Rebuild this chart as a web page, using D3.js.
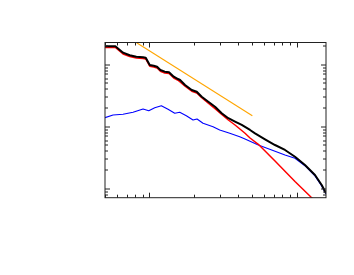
<!DOCTYPE html>
<html>
<head>
<meta charset="utf-8">
<script src="https://cdn.jsdelivr.net/npm/d3@7"></script>
<style>
  html, body { margin: 0; padding: 0; background: #fff; }
  svg { display: block; }
</style>
</head>
<body>
<div id="chart"></div>
<script>
(function() {
    'use strict';

    // axis ranges (log-log, no tick labels in the original)
    var xDomain = [0.5, 15.81];
    var yDomain = [0.0705, 22.47];

    // black series
    var blackX = [0.500, 0.588, 0.663, 0.736, 0.816, 0.906, 0.945, 1.006, 1.071, 1.128, 1.188, 1.272, 1.360, 1.464, 1.565, 1.616, 1.747, 1.940, 2.097, 2.267, 2.513, 2.791, 3.098, 3.436, 3.815, 4.236, 4.823, 5.214, 6.095, 7.126, 8.329, 9.739, 11.38, 13.31, 14.78, 15.81];
    var blackY = [19.51, 19.51, 15.39, 13.97, 13.26, 12.97, 12.78, 9.74, 9.49, 9.15, 8.09, 7.60, 7.43, 6.31, 5.79, 5.58, 4.64, 3.85, 3.61, 3.00, 2.49, 2.07, 1.62, 1.35, 1.19, 1.05, 0.872, 0.771, 0.617, 0.499, 0.415, 0.323, 0.2375, 0.1639, 0.1130, 0.0831];

    // red series
    var redX = [0.500, 0.588, 0.663, 0.736, 0.816, 0.906, 0.945, 1.006, 1.071, 1.128, 1.188, 1.272, 1.360, 1.464, 1.565, 1.747, 1.940, 2.097, 2.267, 2.513, 2.791, 3.098, 3.436, 3.815, 4.236, 4.460, 4.823, 5.490, 7.126, 9.739, 12.64, 13.31];
    var redY = [18.66, 18.66, 14.66, 13.36, 12.64, 12.41, 12.18, 9.32, 9.05, 8.71, 7.74, 7.24, 7.11, 6.01, 5.52, 4.43, 3.68, 3.44, 2.893, 2.350, 1.922, 1.561, 1.264, 1.049, 0.856, 0.771, 0.648, 0.5124, 0.2756, 0.1287, 0.0705, 0.0624];

    // blue series
    var blueX = [0.500, 0.567, 0.663, 0.775, 0.906, 0.991, 1.088, 1.206, 1.339, 1.487, 1.608, 1.782, 1.979, 2.107, 2.314, 2.705, 3.003, 3.513, 4.105, 4.460, 5.490, 6.767, 8.329, 9.739, 11.38, 13.31, 14.78, 15.81];
    var blueY = [1.376, 1.521, 1.561, 1.682, 1.901, 1.785, 1.995, 2.149, 1.880, 1.621, 1.682, 1.483, 1.264, 1.311, 1.118, 0.985, 0.872, 0.771, 0.680, 0.624, 0.499, 0.415, 0.344, 0.305, 0.2315, 0.158, 0.109, 0.0809];

    // orange reference slope
    var refX = [0.82, 5.0];
    var refY = [22.2, 1.48];

    var width = 354, height = 275;
    var margin = { top: 42.5, right: 28, bottom: 77.3, left: 105 };
    var w = width - margin.left - margin.right;
    var h = height - margin.top - margin.bottom;

    var svg = d3.select('#chart').append('svg')
        .attr('width', width)
        .attr('height', height);

    var g = svg.append('g')
        .attr('transform', 'translate(' + margin.left + ',' + margin.top + ')');

    var x = d3.scaleLog().domain(xDomain).range([0, w]);
    var y = d3.scaleLog().domain(yDomain).range([h, 0]);

    svg.append('defs').append('clipPath').attr('id', 'clip')
        .append('rect').attr('width', w).attr('height', h);

    function zip(xs, ys) {
        return xs.map(function(v, i) { return [v, ys[i]]; });
    }

    var line = d3.line()
        .x(function(d) { return x(d[0]); })
        .y(function(d) { return y(d[1]); });

    var plot = g.append('g').attr('clip-path', 'url(#clip)');

    var series = [
        { data: zip(refX, refY), color: '#ffa500', width: 1.1 },
        { data: zip(blueX, blueY), color: '#0000ff', width: 1.1 },
        { data: zip(redX, redY), color: '#ff0000', width: 1.5 },
        { data: zip(blackX, blackY), color: '#000000', width: 2 }
    ];

    series.forEach(function(s) {
        plot.append('path')
            .datum(s.data)
            .attr('fill', 'none')
            .attr('stroke', s.color)
            .attr('stroke-width', s.width)
            .attr('stroke-linejoin', 'round')
            .attr('d', line);
    });

    // ticks: majors at decades, minors at 2..9
    function isMajor(v) {
        var l = Math.log10(v);
        return Math.abs(l - Math.round(l)) < 1e-6;
    }
    function logTicks(domain) {
        var out = [];
        for (var e = -3; e <= 3; e++) {
            for (var m = 1; m <= 9; m++) {
                var v = m * Math.pow(10, e);
                if (v >= domain[0] && v <= domain[1]) out.push(v);
            }
        }
        return out;
    }

    var axes = g.append('g').attr('stroke', '#222').attr('stroke-width', 1);

    logTicks(xDomain).forEach(function(v) {
        var px = Math.round(x(v)) + 0.5;
        var len = isMajor(v) ? 5 : 3;
        axes.append('line').attr('x1', px).attr('x2', px).attr('y1', h).attr('y2', h - len);
        axes.append('line').attr('x1', px).attr('x2', px).attr('y1', 0).attr('y2', len);
    });
    logTicks(yDomain).forEach(function(v) {
        var py = Math.round(y(v)) + 0.5;
        var len = isMajor(v) ? 5 : 3;
        axes.append('line').attr('x1', 0).attr('x2', len).attr('y1', py).attr('y2', py);
        axes.append('line').attr('x1', w).attr('x2', w - len).attr('y1', py).attr('y2', py);
    });

    g.append('rect')
        .attr('width', w)
        .attr('height', h)
        .attr('fill', 'none')
        .attr('stroke', '#222')
        .attr('stroke-width', 1);
})();
</script>
</body>
</html>
